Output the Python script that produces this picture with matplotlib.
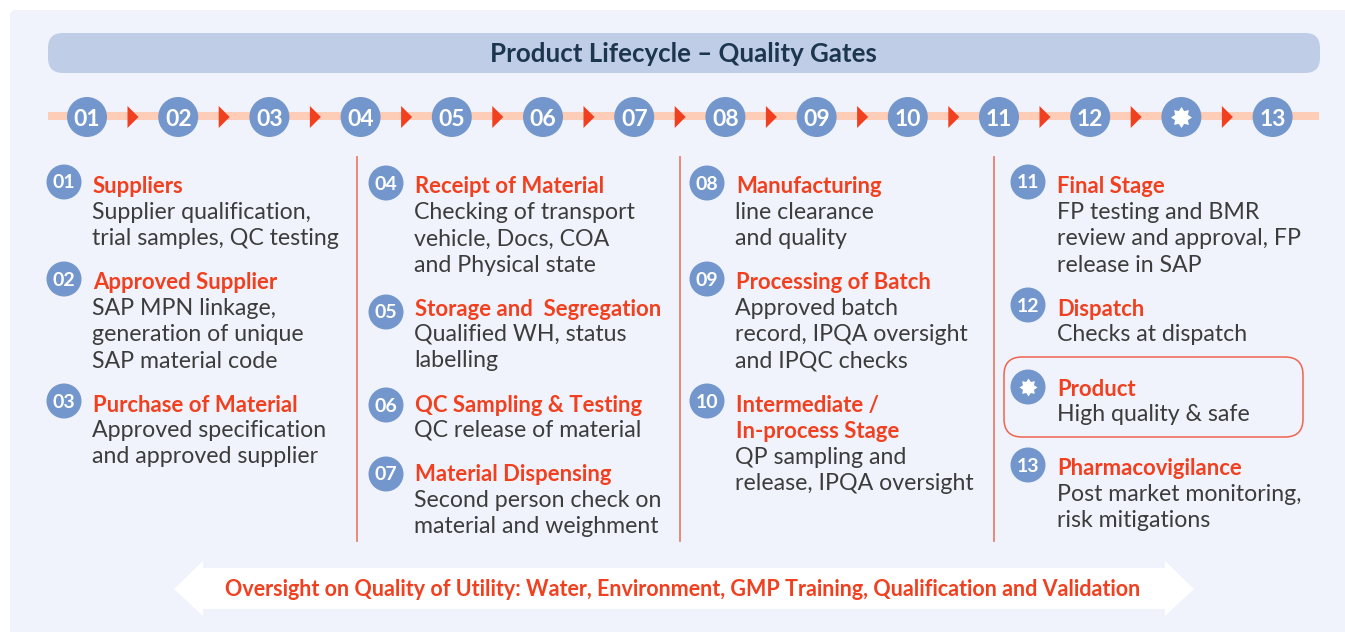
import matplotlib
matplotlib.use('Agg')
import matplotlib.pyplot as plt
from matplotlib.patches import Circle, FancyBboxPatch, Polygon
from matplotlib.path import Path

plt.rcParams['font.family'] = ['Lato', 'DejaVu Sans']

title = 'Product Lifecycle – Quality Gates'
timeline_labels = ['01', '02', '03', '04', '05', '06', '07', '08', '09', '10', '11', '12', '*', '13']
badges = ['01', '02', '03', '04', '05', '06', '07', '08', '09', '10', '11', '12', '*', '13']
headings = [
    ['Suppliers'],
    ['Approved Supplier'],
    ['Purchase of Material'],
    ['Receipt of Material'],
    ['Storage and  Segregation'],
    ['QC Sampling & Testing'],
    ['Material Dispensing'],
    ['Manufacturing'],
    ['Processing of Batch'],
    ['Intermediate /', 'In-process Stage'],
    ['Final Stage'],
    ['Dispatch'],
    ['Product'],
    ['Pharmacovigilance'],
]
bodies = [
    ['Supplier qualification,', 'trial samples, QC testing'],
    ['SAP MPN linkage,', 'generation of unique', 'SAP material code'],
    ['Approved specification', 'and approved supplier'],
    ['Checking of transport', 'vehicle, Docs, COA', 'and Physical state'],
    ['Qualified WH, status', 'labelling'],
    ['QC release of material'],
    ['Second person check on', 'material and weighment'],
    ['line clearance', 'and quality'],
    ['Approved batch', 'record, IPQA oversight', 'and IPQC checks'],
    ['QP sampling and', 'release, IPQA oversight'],
    ['FP testing and BMR', 'review and approval, FP', 'release in SAP'],
    ['Checks at dispatch'],
    ['High quality & safe'],
    ['Post market monitoring,', 'risk mitigations'],
]
oversight = 'Oversight on Quality of Utility: Water, Environment, GMP Training, Qualification and Validation'

# layout, in pixels of the picture
badge_x = [64, 64, 64, 386, 386, 386, 386, 707, 707, 707, 1028, 1028, 1028, 1028]
badge_y = [182, 279, 401, 183, 312, 405, 474, 183, 279, 401, 182, 305, 387, 465]
head_x = [93, 93, 93, 415, 415, 415, 415, 736, 736, 736, 1057, 1057, 1057, 1057]
head_y = [186, 282, 405, 186, 309, 405, 474, 186, 282, 405, 186, 309, 389, 468]
body_x = [92, 92, 92, 414, 414, 414, 414, 735, 735, 735, 1057, 1057, 1057, 1057]
body_y = [212, 308, 430, 212, 334, 430, 500, 212, 308, 457, 212, 334, 414, 494]
line_h = 26.4

PANEL = '#f0f3fb'
BAR = '#bfcee6'
BAND = '#fdcdb8'
BLUE = '#7397cc'
RED = '#f0401f'
DARK = '#3c3c3c'
NAVY = '#1d3650'

fig = plt.figure(figsize=(13.45, 6.32), dpi=100)
ax = fig.add_axes([0, 0, 1, 1])
ax.set_xlim(0, 1345)
ax.set_ylim(632, 0)
ax.axis('off')

sun = Path.unit_regular_star(8, innerCircle=0.66)


def star(x, y, size):
    ax.scatter([x], [y], s=size, marker=sun, color='white', linewidths=0, zorder=6)


ax.add_patch(FancyBboxPatch((10, 10), 1345, 640, boxstyle='round,pad=0,rounding_size=6', fc=PANEL, ec='none', zorder=0))
ax.add_patch(FancyBboxPatch((48, 33), 1272, 40, boxstyle='round,pad=0,rounding_size=15', fc=BAR, ec='none', zorder=1))
ax.text(683, 62.5, title, fontsize=18.6, fontweight='bold', color=NAVY, ha='center', va='baseline', zorder=3)

# timeline
ax.plot([48, 1319], [116, 116], color=BAND, lw=5.8, solid_capstyle='butt', zorder=1)
for i, lab in enumerate(timeline_labels):
    cx = 87 + i * 91.2
    ax.add_patch(Circle((cx, 117), 20, fc=BLUE, ec='none', zorder=4))
    if lab == '*':
        star(cx, 117, 228)
    else:
        ax.text(cx, 126.5, lab, fontsize=16.5, fontweight='bold', color='white', ha='center', va='baseline', zorder=5)
    if i < len(timeline_labels) - 1:
        ax.add_patch(Polygon([(cx + 40.5, 106), (cx + 51.5, 117), (cx + 40.5, 128)], fc=RED, ec='none', zorder=3))

# dividers between the columns
for x in [357, 680, 994]:
    ax.plot([x, x], [157, 541], color='#e8806f', lw=1.3, zorder=1)

# highlighted product box
ax.add_patch(FancyBboxPatch((1004, 357), 299, 80, boxstyle='round,pad=0,rounding_size=18', fc='none', ec='#ef6350', lw=1.1, zorder=2))

# the gate blocks
for i in range(len(badges)):
    ax.add_patch(Circle((badge_x[i], badge_y[i]), 17.5, fc=BLUE, ec='none', zorder=4))
    if badges[i] == '*':
        star(badge_x[i], badge_y[i], 168)
    else:
        ax.text(badge_x[i], badge_y[i] + 6.5, badges[i], fontsize=14, fontweight='bold', color='white', ha='center', va='baseline', zorder=5)
    for j, line in enumerate(headings[i]):
        ax.text(head_x[i], head_y[i] + j * 26 + 7, line, fontsize=15.9, fontweight='bold', color=RED, ha='left', va='baseline', zorder=3)
    for j, line in enumerate(bodies[i]):
        ax.text(body_x[i], body_y[i] + j * line_h + 7, line, fontsize=16.7, color=DARK, ha='left', va='baseline', zorder=3)

# double arrow at the bottom
ax.add_patch(Polygon([(174, 589), (203, 561), (203, 568), (1165, 568), (1165, 561), (1194, 589),
                      (1165, 616), (1165, 609), (203, 609), (203, 616)], fc='white', ec='none', zorder=1))
ax.text(683, 596, oversight, fontsize=15.5, fontweight='bold', color=RED, ha='center', va='baseline', zorder=3)

fig.savefig('out.png', dpi=100, facecolor='white')
